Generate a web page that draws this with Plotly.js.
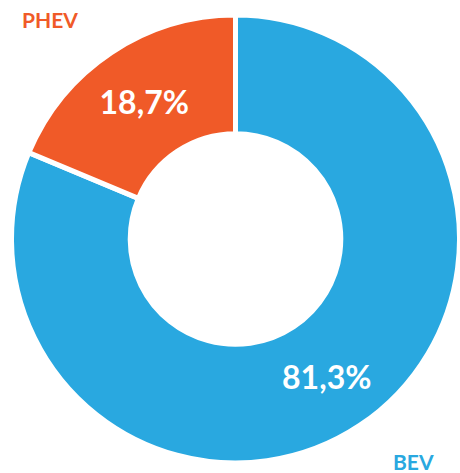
<!DOCTYPE html>
<html>
<head>
<meta charset="utf-8">
<script src="https://cdn.plot.ly/plotly-3.0.1.min.js"></script>
<style>html,body{margin:0;padding:0;background:#fff;}#chart{width:460px;height:473px;}</style>
</head>
<body>
<div id="chart"></div>
<script>
const categories = ['BEV', 'PHEV'];
const shares = [81.3, 18.7];
const colors = ['#29A8E0', '#F05A28'];

const data = [{
  type: 'pie',
  labels: categories,
  values: shares,
  sort: false,
  direction: 'clockwise',
  rotation: 0,
  hole: 0.47,
  marker: {colors: colors, line: {color: '#ffffff', width: 5}},
  texttemplate: '%{value:.1f}%',
  textposition: 'inside',
  insidetextorientation: 'horizontal',
  textfont: {family: 'Lato, sans-serif', size: 32, color: '#ffffff', weight: 'bold'},
  hoverinfo: 'none',
  showlegend: false
}];

const layout = {
  width: 460, height: 473,
  margin: {l: 11, r: 0, t: 15, b: 10},
  separators: ', ',
  paper_bgcolor: '#ffffff',
  annotations: [
    {text: categories[1], xref: 'paper', yref: 'paper', x: 0.087, y: 0.99, showarrow: false,
     xanchor: 'center', yanchor: 'middle', font: {family: 'Lato, sans-serif', size: 21, color: colors[1], weight: 'bold'}},
    {text: categories[0], xref: 'paper', yref: 'paper', x: 0.897, y: 0.004, showarrow: false,
     xanchor: 'center', yanchor: 'middle', font: {family: 'Lato, sans-serif', size: 21, color: colors[0], weight: 'bold'}}
  ]
};

Plotly.newPlot('chart', data, layout, {displayModeBar: false, staticPlot: true});
</script>
</body>
</html>
